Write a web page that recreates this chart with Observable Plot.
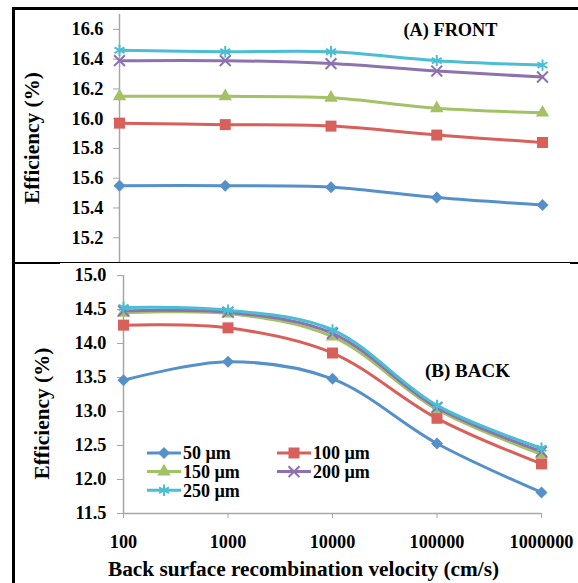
<!DOCTYPE html>
<html>
<head>
<meta charset="utf-8">
<script src="https://cdn.jsdelivr.net/npm/d3@7"></script>
<script src="https://cdn.jsdelivr.net/npm/@observablehq/plot@0.6"></script>
<style>
  html, body { margin: 0; padding: 0; background: #fff; }
  #fig { position: relative; width: 578px; height: 583px; overflow: hidden; }
  #front { position: absolute; left: 0; top: 0; width: 578px; height: 262px; overflow: hidden; }
  #back { position: absolute; left: 0; top: 263px; width: 578px; height: 320px; overflow: hidden; }
  #legend { position: absolute; left: 0; top: 0; pointer-events: none; }
  .edge { position: absolute; background: #000; }
  svg text { font-family: "Liberation Serif", "Times New Roman", serif; font-weight: bold; }
</style>
</head>
<body>
<div id="fig">
  <div id="front"></div>
  <div id="back"></div>
  <svg id="legend" width="578" height="583"></svg>
  <div class="edge" style="left:12px;top:7px;width:566px;height:3px;"></div>
  <div class="edge" style="left:12px;top:7px;width:3px;height:576px;"></div>
  <div class="edge" style="left:14px;top:262px;width:556px;height:1px;"></div>
  <div class="edge" style="left:14px;top:262px;width:46px;height:2px;"></div>
  <div class="edge" style="left:570px;top:262px;width:8px;height:2px;"></div>
</div>
<script>
// Back surface recombination velocity (cm/s)
const velocity = [100, 1000, 10000, 100000, 1000000];

// Wafer thickness series
const thickness = ["50 µm", "100 µm", "150 µm", "200 µm", "250 µm"];

// (A) FRONT efficiency (%)
const front50  = [15.55, 15.55, 15.54, 15.47, 15.42];
const front100 = [15.97, 15.96, 15.95, 15.89, 15.84];
const front150 = [16.15, 16.15, 16.14, 16.07, 16.04];
const front200 = [16.39, 16.39, 16.37, 16.32, 16.28];
const front250 = [16.46, 16.45, 16.45, 16.39, 16.36];

// (B) BACK efficiency (%)
const back50  = [13.46, 13.73, 13.48, 12.53, 11.81];
const back100 = [14.27, 14.23, 13.86, 12.90, 12.23];
const back150 = [14.45, 14.44, 14.10, 13.03, 12.37];
const back200 = [14.48, 14.46, 14.15, 13.06, 12.41];
const back250 = [14.53, 14.49, 14.20, 13.09, 12.46];

// Axis ticks
const frontTicks = [15.2, 15.4, 15.6, 15.8, 16.0, 16.2, 16.4, 16.6];
const backTicks = [11.5, 12.0, 12.5, 13.0, 13.5, 14.0, 14.5, 15.0];

// Series styling
const colors = ["#5690c8", "#d7605b", "#a2c265", "#8c72ae", "#4bbdd4"];
const symbols = ["diamond2", "square", "triangle", "times", "asterisk"];
const radii = [5.4, 6.2, 5, 5, 5.4];
const filled = [true, true, true, false, false];
const d3Symbols = {diamond2: d3.symbolDiamond2, square: d3.symbolSquare, triangle: d3.symbolTriangle, times: d3.symbolTimes, asterisk: d3.symbolAsterisk};

const axisGray = "#a6a6a6";
const fontStyle = {fontSize: "18.3px", fontWeight: "bold", background: "white"};
const titleSize = 21.3;

function toRows(seriesList) {
  return seriesList.flatMap((values, i) =>
    values.map((v, j) => ({series: thickness[i], idx: i, velocity: velocity[j], eff: v})));
}

function seriesMarks(rows) {
  return thickness.flatMap((name, i) => {
    const data = rows.filter(d => d.idx === i);
    return [
      Plot.line(data, {x: "velocity", y: "eff", stroke: colors[i], strokeWidth: 3, curve: "catmull-rom"}),
      Plot.dot(data, {
        x: "velocity", y: "eff", symbol: symbols[i], r: radii[i],
        fill: filled[i] ? colors[i] : "none",
        stroke: filled[i] ? "none" : colors[i],
        strokeWidth: 2
      })
    ];
  });
}

const frontRows = toRows([front50, front100, front150, front200, front250]);
const backRows = toRows([back50, back100, back150, back200, back250]);

const frontPlot = Plot.plot({
  width: 578, height: 270,
  marginLeft: 119, marginRight: 36, marginTop: 14, marginBottom: 3,
  style: fontStyle,
  x: {type: "log", domain: [100, 1000000], axis: null},
  y: {domain: [15.0, 16.7]},
  marks: [
    Plot.ruleX([100], {stroke: axisGray, strokeWidth: 1.5}),
    Plot.axisY(frontTicks, {tickSize: 6, tickPadding: 10, stroke: axisGray, fill: "black", tickFormat: d3.format(".1f"), label: null}),
    ...seriesMarks(frontRows),
    Plot.text(["(A) FRONT"], {frameAnchor: "top-right", dx: -92, dy: 16, textAnchor: "middle", lineAnchor: "middle", fill: "black"}),
    Plot.text(["Efficiency (%)"], {frameAnchor: "left", rotate: -90, dx: -87, dy: -3, fontSize: titleSize, textAnchor: "middle", lineAnchor: "middle", fill: "black"})
  ]
});
document.getElementById("front").append(frontPlot);

const backPlot = Plot.plot({
  width: 578, height: 320,
  marginLeft: 123, marginRight: 37, marginTop: 12, marginBottom: 70,
  style: fontStyle,
  x: {type: "log", domain: [100, 1000000]},
  y: {domain: [11.5, 15.0]},
  marks: [
    Plot.ruleX([100], {stroke: axisGray, strokeWidth: 1.5}),
    Plot.ruleY([11.5], {stroke: axisGray, strokeWidth: 1.5}),
    Plot.axisX(velocity, {tickSize: 5, tickPadding: 16, stroke: axisGray, fill: "black", tickFormat: d => String(d), label: null}),
    Plot.axisY(backTicks, {tickSize: 6, tickPadding: 11, stroke: axisGray, fill: "black", tickFormat: d3.format(".1f"), label: null}),
    ...seriesMarks(backRows),
    Plot.text(["(B) BACK"], {frameAnchor: "top-right", dx: -74, dy: 95, fontSize: 19, textAnchor: "middle", lineAnchor: "middle", fill: "black"}),
    Plot.text(["Efficiency (%)"], {frameAnchor: "left", rotate: -90, dx: -81, dy: 19, fontSize: titleSize, textAnchor: "middle", lineAnchor: "middle", fill: "black"}),
    Plot.text(["Back surface recombination velocity (cm/s)"], {frameAnchor: "bottom", dx: -29, dy: 56, fontSize: titleSize, textAnchor: "middle", lineAnchor: "middle", fill: "black"})
  ]
});
document.getElementById("back").append(backPlot);

// Legend inside the BACK panel: two columns of line-and-marker swatches
const legendSpec = [
  {col: 0, row: 0}, {col: 1, row: 0},
  {col: 0, row: 1}, {col: 1, row: 1},
  {col: 0, row: 2}
];
const legend = d3.select("#legend")
  .style("font-size", "18px");
thickness.forEach((name, i) => {
  const {col, row} = legendSpec[i];
  const x0 = col === 0 ? 147 : 277;
  const y0 = 453 + row * 18.6;
  const g = legend.append("g").attr("transform", `translate(${x0},${y0})`);
  g.append("line").attr("x1", 0).attr("x2", 34).attr("y1", 0).attr("y2", 0)
    .attr("stroke", colors[i]).attr("stroke-width", 3);
  g.append("path")
    .attr("transform", "translate(17,0)")
    .attr("d", d3.symbol(d3Symbols[symbols[i]], Math.PI * radii[i] * radii[i])())
    .attr("fill", filled[i] ? colors[i] : "none")
    .attr("stroke", filled[i] ? "none" : colors[i])
    .attr("stroke-width", 2);
  g.append("text").attr("x", 36).attr("y", 0).attr("dy", "0.35em").attr("fill", "black").text(name);
});
</script>
</body>
</html>
